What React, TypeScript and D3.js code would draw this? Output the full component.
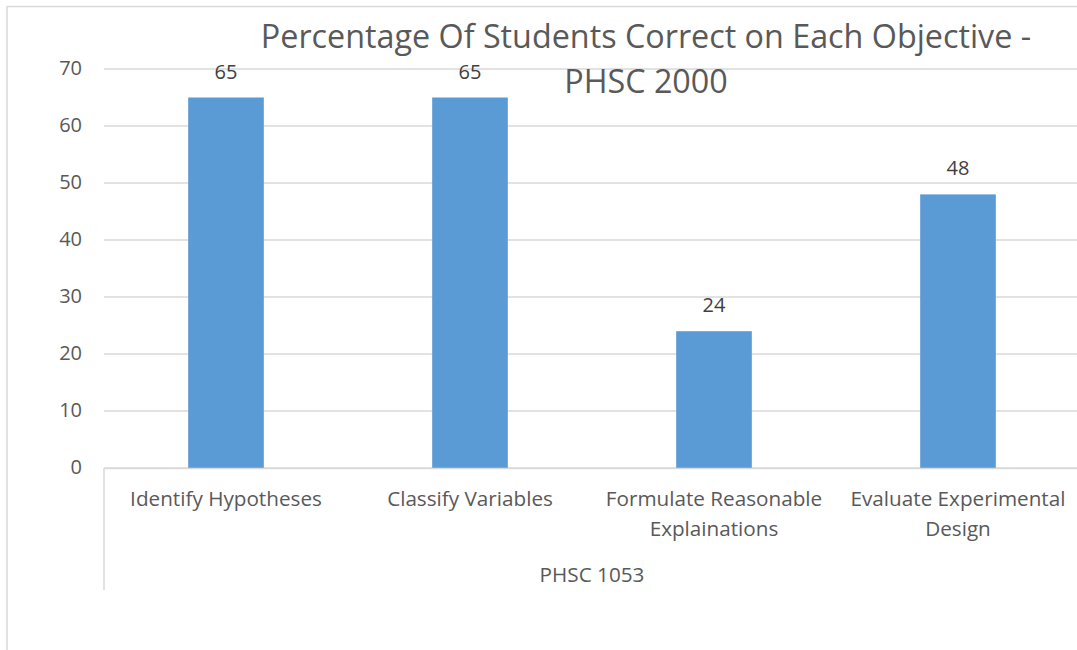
import React from "react";
import * as d3 from "d3";

const categories = [
  ["Identify Hypotheses"],
  ["Classify Variables"],
  ["Formulate Reasonable", "Explainations"],
  ["Evaluate Experimental", "Design"],
];
const values = [65, 65, 24, 48];
const yTicks = [0, 10, 20, 30, 40, 50, 60, 70];
const groupLabel = "PHSC 1053";
const titleLines = ["Percentage Of Students Correct on Each Objective -", "PHSC 2000"];

const W = 1077;
const H = 650;
const FONT = "'Open Sans', sans-serif";

export default function App() {
  const left = 104;
  const right = 1080;
  const top = 69;
  const bottom = 468;
  const x = d3
    .scaleBand<number>()
    .domain(values.map((_, i) => i))
    .range([left, right])
    .paddingInner(0.69)
    .paddingOuter(0.345);
  const y = d3.scaleLinear().domain([0, 70]).range([bottom, top]);

  return (
    <svg width={W} height={H} style={{ position: "absolute", left: 0, top: 0, background: "#fff" }}>
      <rect x={0} y={0} width={W} height={H} fill="#fff" />
      {/* chart border */}
      <line x1={7} y1={6.5} x2={W} y2={6.5} stroke="#d9d9d9" strokeWidth={1.5} />
      <line x1={7} y1={6} x2={7} y2={H} stroke="#d9d9d9" strokeWidth={1.5} />
      {/* gridlines */}
      {yTicks.map((t) => (
        <line key={t} x1={left} x2={right} y1={y(t)} y2={y(t)} stroke="#d9d9d9" strokeWidth={1.3} />
      ))}
      {/* y labels */}
      {yTicks.map((t) => (
        <text key={"l" + t} x={82} y={y(t)} dy="0.3em" textAnchor="end" fontSize={20} fill="#595959" fontFamily={FONT}>
          {t}
        </text>
      ))}
      {/* bars */}
      {values.map((v, i) => (
        <rect key={i} x={x(i)} y={y(v)} width={x.bandwidth()} height={y(0) - y(v)} fill="#5b9bd5" />
      ))}
      {/* data labels */}
      {values.map((v, i) => (
        <text key={"d" + i} x={(x(i) as number) + x.bandwidth() / 2} y={y(v) - 19} textAnchor="middle" fontSize={20} fill="#404040" fontFamily={FONT}>
          {v}
        </text>
      ))}
      {/* axis line */}
      <line x1={left} x2={right} y1={bottom + 0.5} y2={bottom + 0.5} stroke="#d9d9d9" strokeWidth={1.5} />
      <line x1={left} x2={left} y1={bottom} y2={590} stroke="#d9d9d9" strokeWidth={1.5} />
      {/* category labels */}
      {categories.map((lines, i) => (
        <text key={"c" + i} textAnchor="middle" fontSize={20.7} fill="#595959" fontFamily={FONT}>
          {lines.map((ln, j) => (
            <tspan key={j} x={(x(i) as number) + x.bandwidth() / 2} y={506 + j * 30}>
              {ln}
            </tspan>
          ))}
        </text>
      ))}
      <text x={(left + right) / 2} y={582} textAnchor="middle" fontSize={20.7} fill="#595959" fontFamily={FONT}>
        {groupLabel}
      </text>
      {/* title */}
      {titleLines.map((ln, j) => (
        <text key={"t" + j} x={646} y={48 + j * 45} textAnchor="middle" fontSize={32.3} fill="#595959" fontFamily={FONT}>
          {ln}
        </text>
      ))}
    </svg>
  );
}
